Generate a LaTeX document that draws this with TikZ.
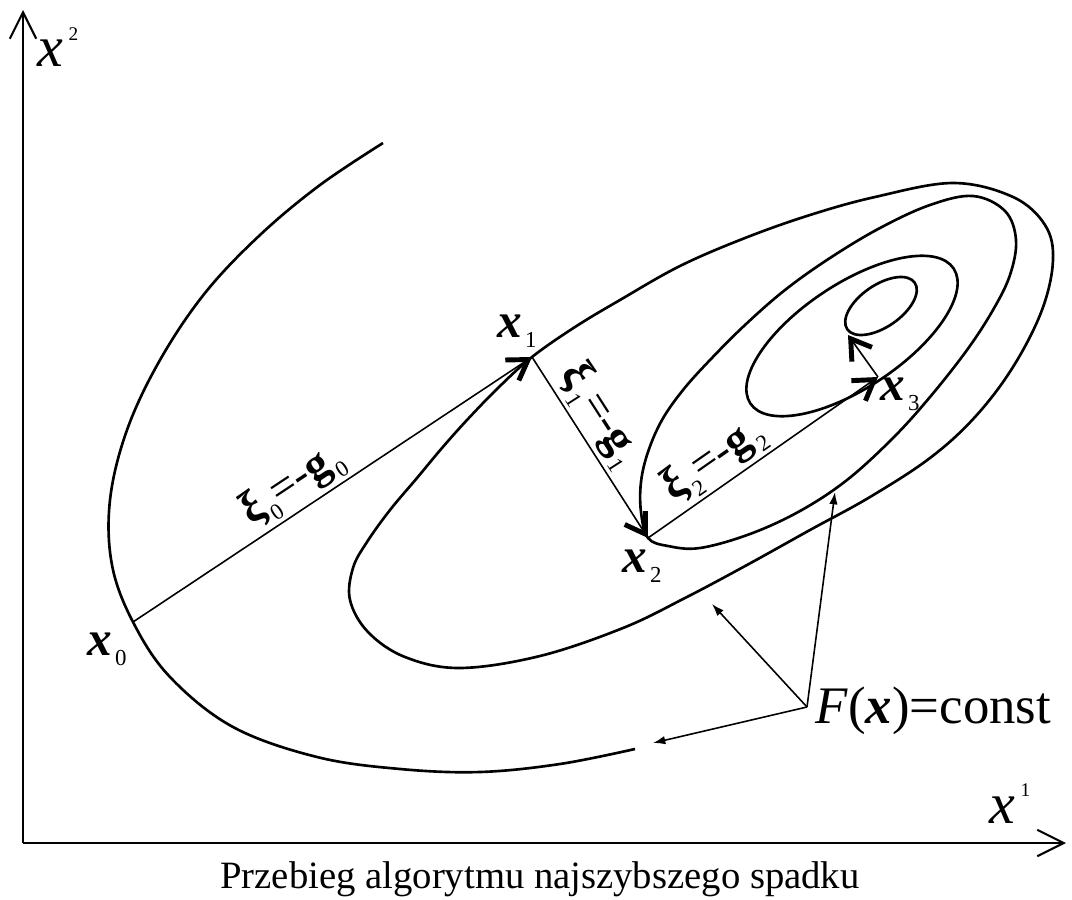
\documentclass[tikz,border=0pt]{standalone}
\usepackage{fontspec}
\setmainfont{Liberation Serif}
\usetikzlibrary{arrows.meta}

\newcommand{\vx}{\textbf{\textit{x}}}
\newcommand{\lsub}[1]{\kern0.8pt\raisebox{-3pt}{\fontsize{6.5}{7}\selectfont\upshape #1}}
\newcommand{\lsup}[1]{\kern1.5pt\raisebox{7.5pt}{\fontsize{5.5}{6}\selectfont\upshape #1}}

\begin{document}
\begin{tikzpicture}[x=0.01cm, y=-0.01cm,
    contour/.style={line width=0.75pt},
    axisline/.style={line width=0.6pt, -{Straight Barb[length=7.5pt,width=7.5pt,line width=0.6pt]}},
    stepline/.style={line width=0.45pt, -{Straight Barb[length=5.5pt,width=7pt,line width=1.4pt]}},
    pointer/.style={line width=0.45pt, -{Latex[length=3.5pt,width=2.4pt]}},
    steplabel/.style={sloped, above, inner sep=1pt, font=\fontsize{13}{14}\selectfont},
    ptlabel/.style={anchor=base west, inner sep=0pt, font=\fontsize{14}{15}\selectfont},
    axislabel/.style={anchor=base west, inner sep=0pt, font=\fontsize{16.5}{17}\selectfont\itshape}]
\useasboundingbox (0,0) rectangle (1072,900);

% Axes
\coordinate (orig) at (23,843);
\coordinate (ytip) at (23,10);
\coordinate (xtip) at (1066,843);
\draw[axisline] (orig) -- (ytip);
\draw[axisline] (orig) -- (xtip);
\node[axislabel] (lx2) at (37,67) {x\lsup{2}};
\node[axislabel] (lx1) at (989,823) {x\lsup{1}};

% Level curves F(x)=const
\draw[contour] plot[smooth, tension=0.6] coordinates {
    (383,143) (320,185) (260,235) (205,293) (160,360) (127,430) (110,500)
    (112,565) (133,622) (170,677) (233,727) (317,757) (400,769) (480,772)
    (560,764) (635,749)};
\draw[contour] plot[smooth cycle, tension=0.6] coordinates {
    (532,357) (575,327) (620,300) (680,266) (745,238) (810,215) (875,197)
    (953,183) (1013,197) (1045,225) (1053,260) (1042,310) (1013,367)
    (975,417) (930,458) (870,497) (810,530) (747,565) (685,598) (623,628)
    (540,656) (460,668) (405,657) (368,632) (350,600) (353,568) (367,542)
    (390,510) (417,478) (442,448) (467,420) (498,388)};
\draw[contour] plot[smooth cycle, tension=0.6] coordinates {
    (648,538) (641,512) (641,482) (648,452) (662,420) (683,390) (710,360)
    (745,325) (785,290) (830,258) (880,228) (930,205) (973,196) (1005,211)
    (1016,240) (1010,275) (993,310) (967,350) (930,397) (893,438) (847,480)
    (800,511) (750,534) (700,548) (668,546)};
\draw[contour, rotate around={33.6:(852,336)}] (852,336) ellipse (122 and 52);
\draw[contour, rotate around={34.6:(881,306)}] (881,306) ellipse (41 and 21);

% Steepest descent steps
\coordinate (x0) at (133,622);
\coordinate (x1) at (532,357);
\coordinate (x2) at (648,538);
\coordinate (x3) at (878,377);
\coordinate (x4) at (848,335);
\draw[stepline] (x0) -- node[steplabel, pos=0.435] {{\bfseries ξ}\lsub{0}=-\textbf{g}\lsub{0}} (x1);
\draw[stepline] (x1) -- node[steplabel, pos=0.40] {{\bfseries ξ}\lsub{1}=-\textbf{g}\lsub{1}} (x2);
\draw[stepline] (x2) -- node[steplabel, pos=0.35] {{\bfseries ξ}\lsub{2}=-\textbf{g}\lsub{2}} (x3);
\draw[stepline] (x3) -- (x4);

\node[ptlabel] (lx0) at (87,655) {\vx\lsub{0}};
\node[ptlabel] (lx1) at (497,337) {\vx\lsub{1}};
\node[ptlabel] (lx2p) at (622,572) {\vx\lsub{2}};
\node[ptlabel] (lx3) at (880,400) {\vx\lsub{3}};

% F(x)=const pointers
\node[anchor=base west, inner sep=0pt, font=\fontsize{15}{16}\selectfont] (flabel) at (815,723) {\textit{F}(\vx)=const};
\coordinate (fsrc) at (807,707);
\coordinate (tA) at (653,743);
\coordinate (tB) at (712,604);
\coordinate (tC) at (835,492);
\draw[pointer] (fsrc) -- (tA);
\draw[pointer] (fsrc) -- (tB);
\draw[pointer] (fsrc) -- (tC);

\node[anchor=base, inner sep=0pt, font=\fontsize{11}{13}\selectfont] (caption) at (540,888) {Przebieg algorytmu najszybszego spadku};
\end{tikzpicture}
\end{document}
